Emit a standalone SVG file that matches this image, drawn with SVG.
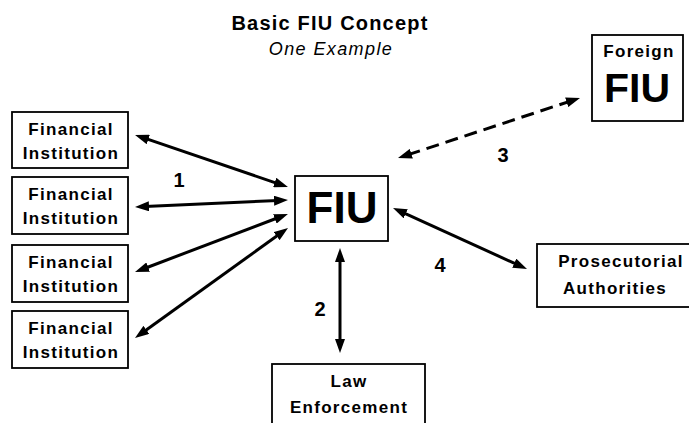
<svg xmlns="http://www.w3.org/2000/svg" width="689" height="423" viewBox="0 0 689 423">
  <style>
    .box { fill: #ffffff; stroke: #000000; stroke-width: 1.8; }
    .lbl { font-family: "Liberation Sans", Arial, sans-serif; font-weight: bold; font-size: 17px; letter-spacing: 1.3px; text-anchor: middle; fill: #000; }
    .big { font-family: "Liberation Sans", Arial, sans-serif; font-weight: bold; text-anchor: middle; fill: #000; }
    .num { font-family: "Liberation Sans", Arial, sans-serif; font-weight: bold; font-size: 20px; text-anchor: middle; fill: #000; }
    .link { fill: none; stroke: #000; stroke-width: 3; marker-start: url(#head); marker-end: url(#head); }
    .dash { stroke-dasharray: 13 7; }
  </style>
  <defs>
    <!-- filled arrowhead; tip sits 10px past the line end -->
    <marker id="head" markerUnits="userSpaceOnUse" markerWidth="14" markerHeight="10" refX="4" refY="5" orient="auto-start-reverse" viewBox="0 0 14 10">
      <path d="M0,0 L14,5 L0,10 Z" fill="#000"/>
    </marker>
  </defs>

  <rect width="689" height="423" fill="#ffffff"/>

  <!-- title -->
  <g id="title">
    <text class="big" x="330" y="30" font-size="20" letter-spacing="1.2">Basic FIU Concept</text>
    <text x="331" y="55" font-family="Liberation Sans, Arial, sans-serif" font-style="italic" font-size="18" letter-spacing="1.4" text-anchor="middle">One Example</text>
  </g>

  <!-- connectors -->
  <g id="connectors">
    <line class="link" x1="144.5" y1="138.2" x2="278.5" y2="183.8"/>
    <line class="link" x1="145" y1="206.5" x2="278" y2="200.5"/>
    <line class="link" x1="144.4" y1="268.5" x2="278.6" y2="217.5"/>
    <line class="link" x1="143.1" y1="332.2" x2="279.9" y2="233.8"/>
    <line class="link" x1="340" y1="258" x2="340" y2="343"/>
    <line class="link dash" x1="407.5" y1="154.9" x2="570.5" y2="101.1"/>
    <line class="link" x1="402.1" y1="212.1" x2="517.9" y2="264.9"/>
    <text class="num" x="179" y="187">1</text>
    <text class="num" x="320" y="316">2</text>
    <text class="num" x="503" y="162">3</text>
    <text class="num" x="440" y="272">4</text>
  </g>

  <!-- nodes -->
  <g id="fi1">
    <rect class="box" x="12" y="112" width="116" height="56"/>
    <text class="lbl" x="71" y="135">Financial</text>
    <text class="lbl" x="71" y="159">Institution</text>
  </g>
  <g id="fi2">
    <rect class="box" x="12" y="177" width="116" height="57"/>
    <text class="lbl" x="71" y="200">Financial</text>
    <text class="lbl" x="71" y="224">Institution</text>
  </g>
  <g id="fi3">
    <rect class="box" x="12" y="245" width="116" height="57"/>
    <text class="lbl" x="71" y="268">Financial</text>
    <text class="lbl" x="71" y="292">Institution</text>
  </g>
  <g id="fi4">
    <rect class="box" x="12" y="311" width="116" height="57"/>
    <text class="lbl" x="71" y="334">Financial</text>
    <text class="lbl" x="71" y="358">Institution</text>
  </g>
  <g id="fiu">
    <rect class="box" x="295" y="176" width="93" height="65"/>
    <text class="big" x="342" y="223" font-size="44">FIU</text>
  </g>
  <g id="foreign-fiu">
    <rect class="box" x="592" y="35" width="91" height="86"/>
    <text class="lbl" x="639" y="57" letter-spacing="0.8">Foreign</text>
    <text class="big" x="637" y="102" font-size="41">FIU</text>
  </g>
  <g id="prosecutorial">
    <rect class="box" x="537" y="244" width="160" height="63"/>
    <text class="lbl" x="621" y="267" letter-spacing="3">Prosecutorial</text>
    <text class="lbl" x="615" y="294" letter-spacing="1.9">Authorities</text>
  </g>
  <g id="law">
    <rect class="box" x="272" y="364" width="153" height="70"/>
    <text class="lbl" x="349" y="387" letter-spacing="2">Law</text>
    <text class="lbl" x="349" y="413" letter-spacing="3.4">Enforcement</text>
  </g>
</svg>
